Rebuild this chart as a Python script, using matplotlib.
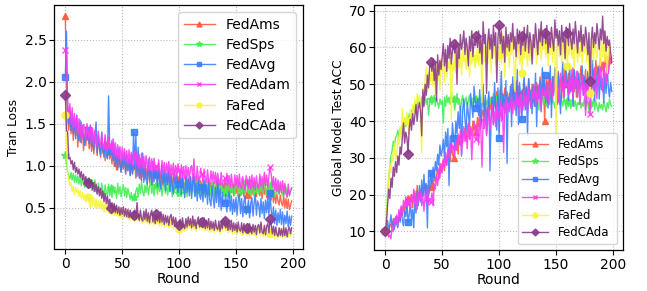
import matplotlib
matplotlib.use("Agg")
import matplotlib.pyplot as plt

rounds = list(range(200))
names = ["FedAms", "FedSps", "FedAvg", "FedAdam", "FaFed", "FedCAda"]

loss_fedams = [
2.78,1.90,1.55,1.42,1.58,1.38,1.52,1.30,1.55,1.36,
1.50,1.22,1.46,1.28,1.40,1.45,1.18,1.38,1.24,1.42,
1.35,1.20,1.40,1.17,1.33,1.14,1.36,1.25,1.12,1.34,
1.22,1.10,1.30,1.15,1.26,1.06,1.28,1.10,1.24,1.08,
1.18,1.02,1.20,0.99,1.14,0.95,1.12,0.98,1.10,0.93,
1.08,0.96,1.12,0.91,1.04,0.94,1.08,0.89,1.03,0.90,
0.99,1.02,0.85,1.06,0.88,0.98,0.84,1.02,0.87,0.96,
0.83,0.97,0.86,1.00,0.80,0.95,0.85,0.79,0.98,0.84,
0.93,0.81,0.96,0.78,0.91,0.84,0.76,0.94,0.80,0.90,
0.78,0.92,0.80,0.89,0.74,0.91,0.79,0.88,0.75,0.87,
0.83,0.89,0.73,0.86,0.79,0.71,0.88,0.76,0.85,0.72,
0.86,0.75,0.70,0.87,0.74,0.83,0.69,0.85,0.73,0.82,
0.72,0.84,0.68,0.81,0.74,0.66,0.83,0.71,0.80,0.67,
0.81,0.70,0.65,0.82,0.69,0.79,0.66,0.80,0.70,0.64,
0.77,0.81,0.66,0.76,0.63,0.79,0.68,0.77,0.64,0.78,
0.67,0.76,0.62,0.80,0.68,0.65,0.77,0.63,0.75,0.67,
0.65,0.78,0.68,0.62,0.76,0.66,0.79,0.67,0.63,0.75,
0.77,0.64,0.74,0.61,0.76,0.66,0.75,0.62,0.73,0.60,
0.70,0.59,0.71,0.56,0.68,0.55,0.66,0.58,0.53,0.65,
0.56,0.52,0.64,0.50,0.61,0.49,0.60,0.48,0.53,0.58]

loss_fedsps = [
1.13,1.02,0.92,0.88,0.84,0.92,0.83,0.91,0.80,0.89,
0.80,0.88,0.78,0.86,0.76,0.85,0.79,0.74,0.84,0.75,
0.82,0.73,0.84,0.71,0.80,0.69,0.83,0.74,0.67,0.79,
0.71,0.66,0.79,0.69,0.63,0.77,0.68,0.65,0.78,0.64,
0.74,0.62,0.76,0.67,0.72,0.61,0.79,0.66,0.75,0.63,
0.71,0.77,0.64,0.74,0.62,0.73,0.66,0.60,0.68,0.58,
0.63,0.58,0.70,0.74,0.64,0.78,0.67,0.81,0.69,0.64,
0.77,0.68,0.80,0.65,0.75,0.82,0.67,0.78,0.64,0.74,
0.77,0.66,0.79,0.69,0.81,0.64,0.75,0.83,0.67,0.78,
0.65,0.77,0.69,0.80,0.63,0.76,0.68,0.81,0.66,0.74,
0.68,0.79,0.65,0.77,0.82,0.66,0.75,0.63,0.80,0.69,
0.78,0.65,0.83,0.70,0.64,0.77,0.88,0.67,0.79,0.66,
0.75,0.81,0.65,0.78,0.68,0.85,0.66,0.77,0.64,0.80,
0.70,0.63,0.82,0.67,0.78,0.65,0.84,0.68,0.77,0.64,
0.68,0.79,0.66,0.81,0.70,0.62,0.83,0.68,0.78,0.65,
0.75,0.82,0.67,0.77,0.64,0.85,0.68,0.79,0.66,0.76,
0.80,0.67,0.77,0.65,0.83,0.69,0.63,0.81,0.68,0.78,
0.66,0.87,0.69,0.79,0.67,0.90,0.70,0.65,0.82,0.68,
0.77,0.66,0.80,0.69,0.63,0.78,0.67,0.76,0.65,0.79,
0.68,0.64,0.77,0.66,0.75,0.62,0.73,0.65,0.70,0.74]

loss_fedavg = [
2.06,2.60,1.70,1.50,1.66,1.42,1.62,1.38,1.56,1.32,
1.60,1.36,1.30,1.54,1.27,1.48,1.33,1.24,1.46,1.30,
1.42,1.26,1.48,1.22,1.40,1.18,1.37,1.52,1.15,1.36,
1.20,1.13,1.40,1.18,1.10,1.33,1.16,1.08,1.83,1.22,
1.17,1.30,1.06,1.25,0.99,1.18,0.95,1.21,1.02,0.92,
1.14,0.97,1.16,0.90,1.12,0.94,1.09,0.88,1.14,0.90,
1.40,0.97,1.36,0.87,1.22,0.85,1.08,0.82,1.15,0.80,
1.03,0.86,0.78,1.08,0.83,0.99,0.77,1.05,0.81,0.96,
0.90,0.75,0.99,0.81,0.72,1.01,0.78,0.94,0.70,0.91,
0.77,0.96,0.69,0.91,0.75,0.66,0.94,0.73,0.89,0.68,
0.78,0.90,0.66,0.93,0.71,0.62,0.88,0.68,0.84,0.64,
0.87,0.61,0.81,0.91,0.63,0.79,0.58,0.84,0.65,0.60,
0.75,0.57,0.83,0.62,0.77,0.54,0.80,0.59,0.52,0.76,
0.61,0.50,0.74,0.56,0.84,0.51,0.72,0.47,0.68,0.54,
0.55,0.66,0.45,0.62,0.69,0.46,0.64,0.42,0.60,0.45,
0.62,0.41,0.58,0.66,0.43,0.61,0.39,0.57,0.64,0.42,
0.48,0.59,0.38,0.55,0.62,0.40,0.56,0.66,0.41,0.58,
0.54,0.39,0.61,0.43,0.57,0.37,0.59,0.44,0.64,0.41,
0.67,0.47,0.35,0.51,0.31,0.47,0.29,0.44,0.32,0.48,
0.30,0.45,0.28,0.41,0.31,0.46,0.27,0.40,0.29,0.40]

loss_fedadam = [
2.38,2.35,1.75,1.58,1.74,1.50,1.69,1.45,1.62,1.42,
1.60,1.38,1.56,1.35,1.52,1.33,1.49,1.45,1.30,1.50,
1.40,1.32,1.48,1.27,1.45,1.25,1.42,1.29,1.23,1.41,
1.27,1.22,1.39,1.24,1.19,1.37,1.21,1.17,1.34,1.20,
1.25,1.15,1.32,1.12,1.27,1.10,1.25,1.08,1.23,1.07,
1.22,1.05,1.20,1.04,1.18,1.02,1.19,1.03,1.16,1.01,
1.10,1.18,1.00,1.16,0.99,1.13,0.97,1.15,0.98,1.11,
0.96,1.12,0.98,0.94,1.10,0.95,1.08,0.92,1.09,0.94,
1.00,0.91,1.07,0.93,0.89,1.06,0.92,1.04,0.88,1.03,
0.90,1.05,0.87,1.01,0.89,1.03,0.86,1.00,0.88,1.02,
0.95,0.85,1.01,0.87,0.99,0.84,1.00,0.86,0.98,0.83,
0.97,1.00,0.84,1.08,0.87,0.82,0.99,0.85,0.81,0.97,
0.90,0.81,0.96,0.83,0.80,0.95,0.82,0.79,0.94,0.81,
0.93,0.79,0.92,0.78,0.91,0.80,0.77,0.92,0.79,0.75,
0.85,0.77,0.91,0.76,0.88,0.74,0.90,0.77,0.73,0.89,
0.76,0.88,0.74,0.90,0.75,0.72,0.87,0.76,0.71,0.88,
0.80,0.73,0.87,0.72,0.89,0.74,0.86,0.71,0.88,0.75,
0.73,0.90,0.75,0.87,0.72,0.92,0.76,0.89,0.74,0.88,
0.98,0.90,0.75,0.87,0.71,0.85,0.69,0.83,0.67,0.81,
0.68,0.82,0.65,0.79,0.67,0.63,0.78,0.64,0.70,0.73]

loss_fafed = [
1.60,1.28,0.92,0.82,0.76,0.80,0.69,0.76,0.66,0.74,
0.68,0.72,0.63,0.70,0.61,0.68,0.59,0.66,0.57,0.64,
0.63,0.55,0.50,0.64,0.52,0.62,0.50,0.60,0.49,0.58,
0.49,0.58,0.47,0.56,0.45,0.55,0.46,0.56,0.44,0.52,
0.47,0.42,0.52,0.41,0.50,0.40,0.49,0.39,0.48,0.38,
0.46,0.37,0.45,0.38,0.47,0.36,0.44,0.35,0.46,0.37,
0.40,0.34,0.44,0.35,0.43,0.33,0.42,0.34,0.31,0.41,
0.33,0.42,0.32,0.40,0.30,0.39,0.31,0.41,0.29,0.38,
0.37,0.30,0.38,0.28,0.37,0.29,0.36,0.27,0.38,0.28,
0.35,0.26,0.36,0.27,0.34,0.25,0.35,0.26,0.33,0.24,
0.25,0.32,0.24,0.33,0.25,0.22,0.32,0.23,0.34,0.25,
0.32,0.23,0.35,0.24,0.33,0.22,0.31,0.36,0.24,0.32,
0.30,0.24,0.34,0.22,0.31,0.23,0.33,0.21,0.30,0.22,
0.29,0.20,0.31,0.23,0.21,0.30,0.19,0.29,0.22,0.37,
0.30,0.22,0.30,0.20,0.29,0.21,0.31,0.19,0.28,0.20,
0.27,0.18,0.29,0.21,0.19,0.28,0.17,0.27,0.20,0.18,
0.25,0.19,0.16,0.26,0.18,0.28,0.17,0.25,0.15,0.24,
0.26,0.17,0.29,0.18,0.16,0.25,0.15,0.24,0.17,0.15,
0.20,0.25,0.15,0.23,0.14,0.24,0.16,0.14,0.23,0.15,
0.22,0.14,0.24,0.14,0.21,0.23,0.15,0.22,0.16,0.20]

loss_fedcada = [
1.84,1.42,1.40,1.08,1.10,1.02,1.06,0.95,1.04,0.92,
0.98,0.90,0.96,0.86,0.93,0.83,0.90,0.80,0.87,0.79,
0.79,0.85,0.74,0.83,0.71,0.80,0.69,0.78,0.66,0.75,
0.64,0.73,0.61,0.70,0.57,0.67,0.55,0.64,0.52,0.60,
0.50,0.56,0.46,0.55,0.44,0.53,0.43,0.51,0.41,0.50,
0.42,0.51,0.40,0.49,0.39,0.48,0.38,0.47,0.40,0.37,
0.41,0.47,0.36,0.56,0.40,0.35,0.47,0.37,0.34,0.46,
0.36,0.48,0.34,0.44,0.32,0.43,0.47,0.33,0.42,0.31,
0.42,0.34,0.43,0.32,0.45,0.33,0.42,0.30,0.41,0.32,
0.40,0.29,0.39,0.42,0.30,0.39,0.28,0.38,0.29,0.27,
0.29,0.36,0.27,0.38,0.28,0.25,0.37,0.27,0.39,0.29,
0.37,0.26,0.40,0.28,0.36,0.25,0.35,0.39,0.27,0.37,
0.33,0.27,0.38,0.25,0.35,0.26,0.37,0.24,0.34,0.25,
0.33,0.23,0.35,0.26,0.24,0.34,0.22,0.33,0.25,0.37,
0.34,0.26,0.34,0.23,0.33,0.24,0.35,0.22,0.32,0.23,
0.31,0.21,0.33,0.24,0.22,0.32,0.20,0.31,0.23,0.21,
0.26,0.20,0.31,0.22,0.19,0.30,0.21,0.29,0.18,0.28,
0.30,0.20,0.33,0.21,0.19,0.29,0.18,0.28,0.31,0.20,
0.36,0.30,0.19,0.28,0.17,0.27,0.18,0.16,0.26,0.17,
0.25,0.16,0.27,0.17,0.26,0.15,0.24,0.27,0.19,0.26]

acc_fedams = [
10.0,10.5,11.0,10.2,11.5,12.0,10.8,13.5,11.2,12.5,
14.0,12.0,15.5,13.0,16.5,14.5,17.0,15.0,18.5,16.0,
19.0,17.5,18.5,20.0,16.5,19.5,21.0,18.0,22.5,19.0,
20.5,18.5,22.0,19.5,21.5,23.0,20.0,22.5,19.5,21.0,
22.0,24.5,21.5,26.0,23.5,25.0,27.5,24.0,28.5,26.0,
27.0,29.5,26.5,31.0,28.0,30.5,32.5,29.0,33.5,31.0,
30.0,34.0,32.0,35.5,31.0,36.0,33.5,37.5,34.0,36.5,
38.0,34.5,37.0,39.5,35.5,38.5,36.0,40.0,37.5,39.0,
37.0,41.0,38.5,42.5,39.0,41.5,43.0,40.0,44.5,42.0,
41.5,45.0,43.0,46.5,42.0,44.5,47.0,43.5,48.0,45.5,
45.0,48.5,44.0,47.5,45.5,49.0,46.0,48.0,44.5,47.5,
46.5,50.0,45.0,48.5,47.0,51.0,46.0,49.5,45.5,48.0,
48.0,44.5,50.5,47.0,49.5,46.0,51.5,48.0,45.0,50.0,
47.5,49.0,44.0,50.5,48.5,46.0,52.0,49.0,47.0,51.0,
40.0,48.5,51.5,47.0,53.0,49.5,46.5,52.0,48.0,54.0,
50.0,47.5,53.5,49.0,51.5,46.0,52.5,48.5,55.0,50.5,
50.0,53.0,47.5,51.5,49.0,54.5,48.0,52.0,46.5,53.5,
49.5,51.0,55.0,48.5,52.5,50.0,54.0,47.0,53.0,51.5,
52.0,55.5,50.5,54.0,49.0,56.5,52.5,55.0,51.0,57.0,
53.5,56.0,52.0,58.0,54.5,57.5,53.0,59.0,55.5,56.0]

acc_fedsps = [
10.0,14.0,20.0,24.5,28.0,30.5,32.0,34.5,33.0,35.5,
36.0,37.5,35.5,38.0,36.5,39.0,37.5,40.5,38.5,41.0,
40.0,42.0,39.5,43.0,41.5,44.0,42.5,45.0,43.5,46.0,
45.0,44.0,46.5,43.5,45.5,47.0,44.5,46.0,41.5,45.0,
46.0,44.5,45.5,47.0,44.0,46.5,45.0,43.5,46.0,44.5,
45.5,39.5,46.5,44.0,47.0,45.0,46.5,44.5,48.0,45.5,
46.0,43.0,45.5,47.5,44.5,46.0,42.5,45.5,47.0,44.0,
45.0,46.5,44.0,45.5,47.0,44.5,46.0,43.5,45.5,46.5,
46.0,44.5,45.5,47.0,44.0,46.5,45.0,43.5,46.0,44.5,
45.5,47.0,44.5,46.0,45.0,47.5,44.0,46.5,45.5,44.5,
46.5,45.0,47.0,44.5,46.0,45.5,43.5,46.5,45.0,47.0,
44.5,46.0,45.5,47.5,44.0,46.5,45.0,43.5,46.0,47.0,
45.5,44.0,46.5,45.0,47.0,44.5,46.0,45.5,43.5,46.5,
45.0,47.0,44.5,46.0,45.5,43.0,46.5,45.0,47.5,44.5,
46.0,45.0,44.0,46.5,45.5,47.0,44.5,46.0,45.0,43.5,
46.5,45.0,47.0,44.5,46.0,45.5,44.0,46.5,45.0,43.0,
45.5,44.0,46.0,43.5,45.0,46.5,44.0,45.5,43.0,45.0,
44.5,46.0,43.5,45.0,44.0,46.5,43.0,45.5,44.5,42.5,
45.0,43.5,44.5,46.0,43.0,45.5,44.0,42.5,45.0,43.5,
44.5,43.0,45.5,44.0,42.5,45.0,43.5,46.0,44.5,44.0]

acc_fedavg = [
10.0,10.5,13.0,10.5,12.0,14.5,11.0,13.0,10.5,14.0,
12.0,11.0,15.0,12.5,16.5,13.0,11.5,15.5,14.0,17.5,
12.5,14.5,18.0,13.0,16.0,11.0,19.5,15.0,21.0,17.0,
22.5,18.0,24.0,19.5,25.5,20.0,23.0,11.0,25.0,21.5,
26.0,23.0,27.5,24.5,29.0,26.5,31.0,28.0,33.5,30.5,
32.0,35.0,29.5,37.0,33.0,38.0,22.5,36.0,31.5,39.5,
35.5,33.0,40.0,36.5,42.5,38.0,44.0,30.5,43.0,46.0,
40.5,37.0,45.0,42.0,38.5,47.5,44.0,41.0,49.5,45.5,
43.5,46.0,41.5,48.5,38.0,44.5,50.0,40.5,47.0,36.5,
43.0,48.0,26.5,41.5,46.5,39.0,50.5,44.0,37.5,49.0,
35.5,45.5,53.5,40.5,47.0,42.0,51.0,28.5,46.5,43.0,
49.5,38.5,52.0,44.5,48.0,41.5,54.0,39.0,50.5,46.0,
40.5,47.5,52.5,43.0,49.0,36.0,51.5,45.5,48.5,42.0,
50.0,44.0,53.0,38.5,49.5,46.0,51.0,42.5,54.5,47.5,
52.5,45.0,50.5,43.5,48.0,55.0,41.0,52.0,47.0,54.5,
49.5,44.5,53.0,48.5,42.0,51.0,56.0,46.5,50.5,53.5,
50.0,45.5,55.5,48.0,52.5,44.0,54.0,49.0,51.5,46.5,
53.0,48.5,50.5,55.0,47.0,52.0,49.5,45.0,53.5,50.0,
50.0,47.5,56.5,51.0,45.5,53.0,49.0,54.5,46.0,52.0,
48.5,51.5,45.0,53.0,47.5,55.5,49.0,46.5,50.5,48.0]

acc_fedadam = [
10.0,9.5,10.5,8.5,9.0,8.0,11.5,10.0,13.5,12.0,
14.5,11.5,16.0,13.5,17.0,15.0,18.5,16.5,19.5,17.0,
17.5,19.0,16.5,20.0,18.0,21.5,17.5,19.5,16.0,20.5,
18.5,21.0,17.0,19.5,15.5,20.0,18.0,22.0,17.5,19.0,
18.0,20.5,17.0,23.0,21.5,25.0,22.5,27.0,24.5,28.5,
26.0,29.5,27.5,31.5,28.0,32.5,30.0,34.0,31.5,33.0,
33.0,30.5,35.0,32.0,36.5,33.5,37.5,31.0,35.5,38.5,
34.5,37.0,32.5,39.0,35.0,38.0,29.5,36.5,40.0,37.5,
35.0,39.5,33.5,41.0,37.0,27.5,40.5,38.0,42.5,36.0,
39.5,43.5,37.5,41.0,44.5,39.0,42.5,38.5,45.0,40.5,
42.0,45.5,40.0,44.0,31.5,43.5,46.5,41.5,45.0,42.5,
44.5,47.0,42.0,45.5,43.0,48.0,44.0,46.5,41.5,47.5,
45.0,43.0,48.5,44.5,47.0,42.5,49.0,45.5,43.5,48.0,
46.0,49.5,44.0,47.5,45.0,50.0,46.5,43.0,49.0,47.0,
48.0,45.5,50.5,47.0,44.5,51.0,48.5,46.0,52.0,49.0,
47.5,51.5,45.0,49.5,53.0,48.0,50.5,46.5,52.5,49.5,
50.0,47.0,52.0,48.5,54.0,46.0,51.5,49.0,53.5,47.5,
51.0,44.5,49.5,52.5,47.0,50.0,41.5,48.5,51.5,46.0,
42.0,49.0,52.0,47.5,54.5,50.0,46.0,53.0,49.5,55.0,
51.5,48.0,56.0,52.5,50.0,57.5,53.0,55.5,58.0,57.0]

acc_fafed = [
10.0,14.0,19.0,24.0,28.5,26.0,31.0,29.0,34.0,30.5,
30.0,36.0,33.5,38.5,35.0,43.5,37.0,41.0,39.0,42.5,
40.0,36.5,43.0,39.5,44.5,41.0,46.0,42.5,47.5,45.0,
47.0,43.5,31.5,49.0,46.0,51.5,54.5,48.0,53.0,50.0,
52.0,55.0,49.5,53.5,47.0,56.0,51.0,54.5,48.5,57.0,
53.5,55.5,50.5,58.0,52.0,56.5,54.0,57.5,40.5,55.0,
55.0,58.5,53.0,57.0,60.0,54.5,58.0,52.5,59.5,56.0,
57.5,54.0,60.5,56.5,52.0,59.0,55.5,61.0,57.0,54.5,
57.0,60.0,55.0,62.0,58.5,45.0,60.5,56.0,61.5,58.0,
55.5,62.5,58.5,53.0,61.0,57.5,63.0,55.0,60.0,56.5,
58.0,61.5,55.5,63.5,59.0,52.0,62.0,57.5,60.5,54.5,
61.0,58.0,63.0,56.0,48.0,60.0,57.0,62.5,55.5,59.5,
53.0,60.5,57.0,63.0,58.5,55.0,61.5,56.5,62.0,59.0,
57.0,63.5,59.5,55.5,62.0,58.0,64.0,56.5,61.0,59.5,
61.0,57.5,63.0,55.0,60.5,58.0,64.5,56.0,62.0,60.0,
36.5,59.5,62.5,57.5,61.0,55.5,63.0,59.0,56.5,62.0,
55.0,60.5,58.0,63.5,57.0,61.5,54.5,62.0,59.5,56.0,
60.0,57.5,63.0,55.5,61.0,58.5,62.5,56.0,60.5,53.5,
47.5,58.0,61.5,55.5,63.5,59.0,57.0,62.0,60.0,55.0,
61.5,57.5,63.0,56.0,60.5,53.0,59.5,61.0,57.5,58.0]

acc_fedcada = [
10.0,12.5,17.0,21.5,19.0,24.5,22.0,27.5,25.0,29.0,
26.0,30.5,28.0,33.0,31.0,35.5,39.5,34.0,37.0,35.5,
31.0,38.0,40.5,37.5,42.0,39.0,41.5,44.5,40.0,43.5,
45.0,42.5,36.0,48.5,44.0,50.0,47.0,52.5,49.0,55.0,
56.0,53.5,57.0,51.0,55.5,45.5,58.0,52.5,56.5,54.0,
57.5,61.0,55.0,59.5,53.5,60.5,57.0,62.5,55.5,59.0,
61.0,58.5,62.0,50.0,60.5,57.0,63.5,59.5,61.5,64.5,
58.0,62.5,60.0,55.0,63.0,59.0,64.5,57.5,62.0,60.5,
63.0,60.0,64.5,58.5,62.5,55.5,67.0,61.0,63.5,47.5,
61.5,65.0,59.5,63.5,57.0,66.0,60.5,64.0,50.5,62.5,
66.0,61.0,64.5,58.5,63.0,56.0,65.5,60.0,63.5,59.0,
64.0,61.5,66.5,59.5,63.0,57.5,65.0,61.0,64.5,58.0,
63.0,60.5,65.5,59.0,62.5,66.0,58.5,64.0,61.5,55.5,
63.5,60.0,66.5,62.0,58.0,65.0,61.5,67.0,60.5,63.5,
64.0,61.0,66.0,58.5,63.5,60.0,65.5,62.0,59.0,67.5,
62.5,65.0,60.5,64.5,58.0,66.0,61.5,63.5,57.0,65.5,
64.0,60.5,66.5,62.0,59.5,65.0,61.0,67.0,63.0,58.5,
64.5,61.5,66.0,59.0,63.5,60.5,65.5,62.5,58.0,64.0,
51.0,62.0,65.5,60.0,64.0,61.0,66.5,63.0,59.5,65.0,
62.0,68.5,61.0,64.5,59.0,63.0,60.5,62.0,58.5,56.0]

loss_series = [loss_fedams, loss_fedsps, loss_fedavg, loss_fedadam, loss_fafed, loss_fedcada]
acc_series = [acc_fedams, acc_fedsps, acc_fedavg, acc_fedadam, acc_fafed, acc_fedcada]

colors = ["#ff5a3a", "#44ee55", "#3a7fff", "#ff3af0", "#f5f53a", "#8a3a8a"]
markers = ["^", "*", "s", "x", "o", "D"]
msizes = [5, 6, 5, 5, 5, 5]

fig = plt.figure(figsize=(6.47, 2.91), dpi=100)
ax1 = fig.add_axes([0.0835, 0.1443, 0.3848, 0.8385])
ax2 = fig.add_axes([0.578, 0.1409, 0.385, 0.8419])

for ax, series in ((ax1, loss_series), (ax2, acc_series)):
    for name, ys, c, m, ms in zip(names, series, colors, markers, msizes):
        ax.plot(rounds, ys, color=c, marker=m, markevery=20, markersize=ms,
                linewidth=1.0, alpha=0.9, label=name)
    ax.grid(True, linestyle=":", color="#bbbbbb", linewidth=0.8)
    ax.set_xlabel("Round", fontsize=10, labelpad=1)
    ax.tick_params(labelsize=10, length=3.5, pad=2)
    ax.set_xticks([0, 50, 100, 150, 200])
    for s in ax.spines.values():
        s.set_linewidth(0.9)

ax1.set_yticks([0.5, 1.0, 1.5, 2.0, 2.5])
ax1.set_ylabel("Tran Loss", fontsize=8.8, labelpad=3)
ax1.legend(loc="upper right", fontsize=10, handlelength=2.2, labelspacing=0.45,
           markerscale=0.7)

ax2.set_yticks([10, 20, 30, 40, 50, 60, 70])
ax2.set_ylabel("Global Model Test ACC", fontsize=8.8, labelpad=3)
ax2.legend(loc="lower right", fontsize=8.5, handlelength=2.2, labelspacing=0.4,
           markerscale=0.7)

fig.savefig("out.png", dpi=100)
